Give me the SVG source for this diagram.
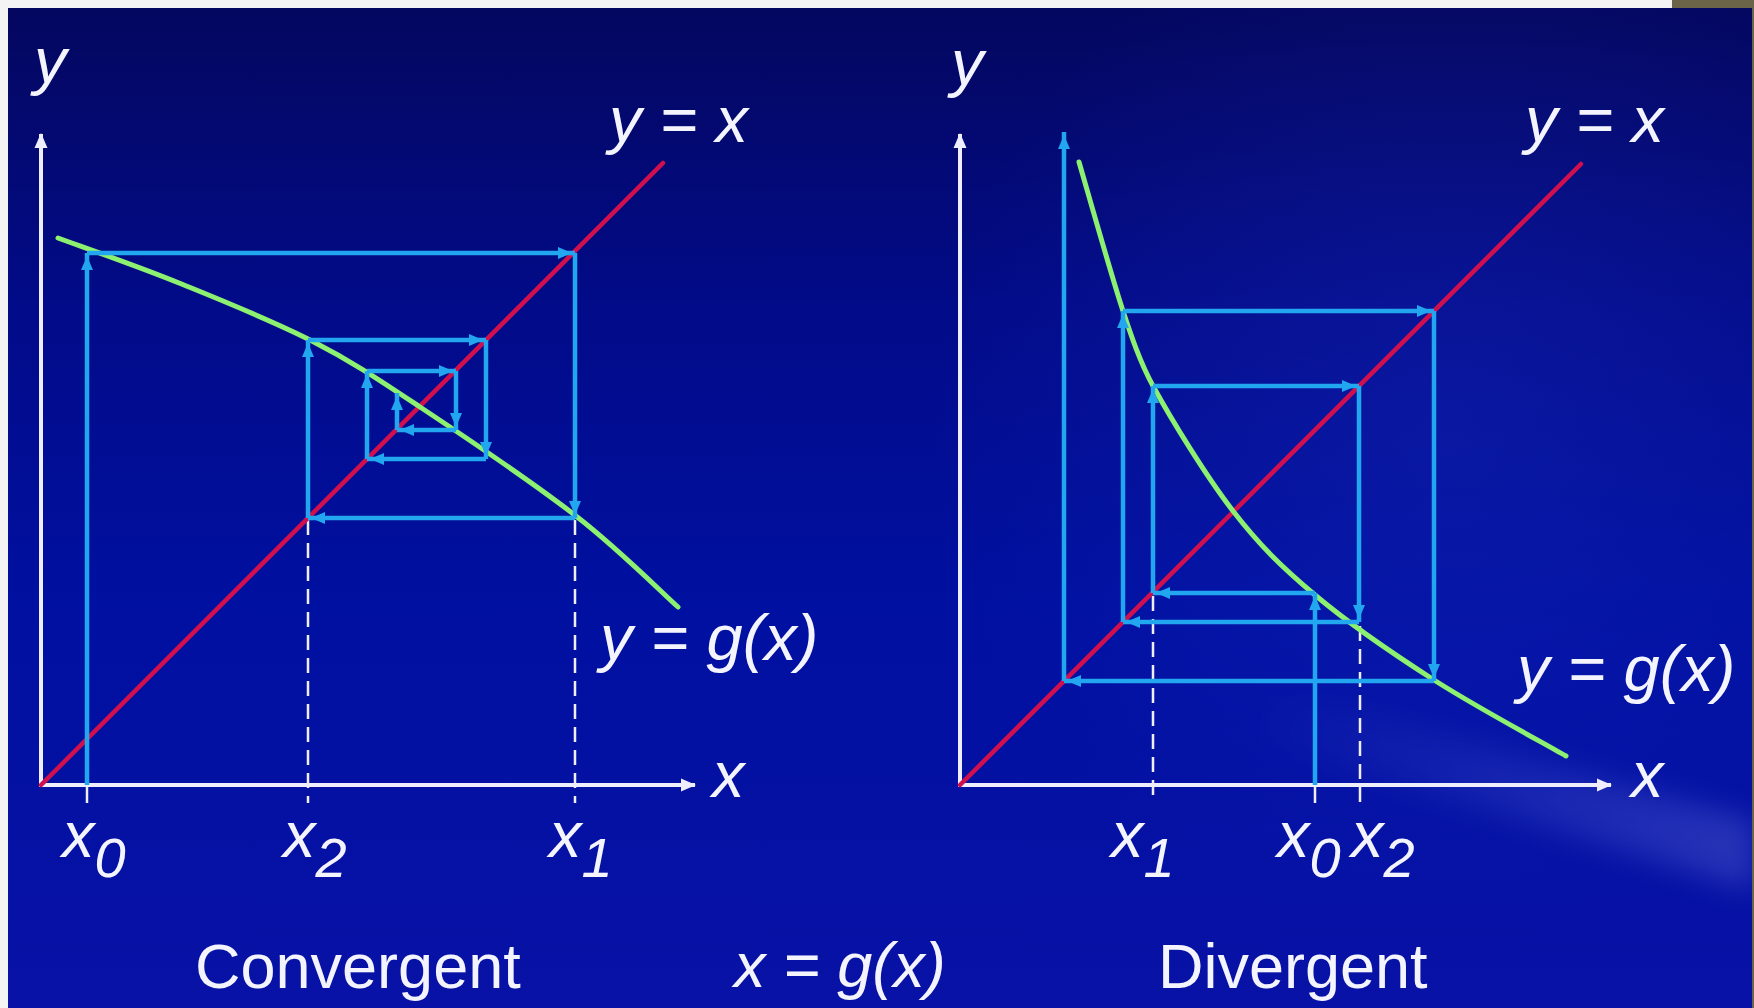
<svg xmlns="http://www.w3.org/2000/svg" width="1754" height="1008" viewBox="0 0 1754 1008">
<defs>
<linearGradient id="bg" x1="0" y1="0" x2="0" y2="1">
<stop offset="0" stop-color="#04075e"/>
<stop offset="0.3" stop-color="#020b88"/>
<stop offset="0.6" stop-color="#0010a0"/>
<stop offset="1" stop-color="#0812a6"/>
</linearGradient>
<radialGradient id="glow" cx="1450" cy="420" r="520" gradientUnits="userSpaceOnUse">
<stop offset="0" stop-color="#2438d0" stop-opacity="0.25"/>
<stop offset="1" stop-color="#2438d0" stop-opacity="0"/>
</radialGradient>
<linearGradient id="beam" x1="1250" y1="700" x2="1754" y2="860" gradientUnits="userSpaceOnUse">
<stop offset="0" stop-color="#8090ff" stop-opacity="0"/>
<stop offset="1" stop-color="#a0b0ff" stop-opacity="0.22"/>
</linearGradient>
<filter id="blur" x="-20%" y="-50%" width="140%" height="200%"><feGaussianBlur stdDeviation="14"/></filter>
<marker id="ca" markerUnits="userSpaceOnUse" markerWidth="16" markerHeight="13" refX="17" refY="6.5" orient="auto">
<path d="M0,0.5 L14,6.5 L0,12.5 z" fill="#22a6f0"/>
</marker>
<marker id="wa" markerUnits="userSpaceOnUse" markerWidth="16" markerHeight="14" refX="14" refY="7" orient="auto">
<path d="M0,0.5 L15,7 L0,13.5 z" fill="#eeeeff"/>
</marker>
</defs>
<style>
.axis{stroke:#eeeeff;stroke-width:4;fill:none}
.tick{stroke:#eeeeff;stroke-width:2.5;fill:none}
.dash{stroke:#eeeeff;stroke-width:2.5;stroke-dasharray:15 8;fill:none}
.diag{stroke:#d0104e;stroke-width:4.5;fill:none;stroke-linecap:round}
.curve{stroke:#8cf070;stroke-width:5;fill:none;stroke-linecap:round}
.web{stroke:#22a6f0;stroke-width:4.5;fill:none;marker-end:url(#ca)}
.m{font-family:"Liberation Sans",Arial,sans-serif;font-style:italic;font-size:65px;fill:#f4f4ff}
.sub{font-size:56px}
.t{font-family:"Liberation Sans",Arial,sans-serif;font-size:63px;fill:#f4f4ff}
</style>
<g id="background">
<rect x="0" y="0" width="1754" height="1008" fill="url(#bg)"/>
<rect x="0" y="0" width="1754" height="1008" fill="url(#glow)"/>
<polygon points="1240,680 1754,820 1754,890 1220,730" fill="url(#beam)" filter="url(#blur)"/>
<rect x="0" y="0" width="1672" height="8" fill="#f4f4f4"/>
<rect x="0" y="0" width="8" height="1008" fill="#f4f4f4"/>
<rect x="1672" y="0" width="82" height="8" fill="#6b6449"/>
<rect x="1752" y="0" width="2" height="1008" fill="#6b6449"/>
</g>
<g id="convergent">
<g id="conv-axes">
<line class="axis" x1="41" y1="787" x2="41" y2="134" marker-end="url(#wa)"/>
<line class="axis" x1="39" y1="785" x2="695" y2="785" marker-end="url(#wa)"/>
<line class="tick" x1="87" y1="785" x2="87" y2="803"/>
<line class="dash" x1="308" y1="520" x2="308" y2="803"/>
<line class="dash" x1="575" y1="520" x2="575" y2="803"/>
</g>
<line id="conv-diag" class="diag" x1="41" y1="785" x2="663" y2="163"/>
<path id="conv-curve" class="curve" d="M58,238 C78.2,245.5 136.7,265.8 179,283 C221.3,300.2 271.8,320.3 312,341 C352.2,361.7 376,377.8 420,407 C464,436.2 533,482.7 576,516 C619,549.3 661,591.8 678,607"/>
<g id="conv-web">
<line class="web" x1="87" y1="785" x2="87" y2="253"/>
<line class="web" x1="87" y1="253" x2="575" y2="253"/>
<line class="web" x1="575" y1="253" x2="575" y2="518"/>
<line class="web" x1="575" y1="518" x2="308" y2="518"/>
<line class="web" x1="308" y1="518" x2="308" y2="340"/>
<line class="web" x1="308" y1="340" x2="486" y2="340"/>
<line class="web" x1="486" y1="340" x2="486" y2="459"/>
<line class="web" x1="486" y1="459" x2="367" y2="459"/>
<line class="web" x1="367" y1="459" x2="367" y2="371"/>
<line class="web" x1="367" y1="371" x2="456" y2="371"/>
<line class="web" x1="456" y1="371" x2="456" y2="430"/>
<line class="web" x1="456" y1="430" x2="397" y2="430"/>
<line class="web" x1="397" y1="430" x2="397" y2="393"/>
</g>
<g id="conv-labels">
<text class="m" x="34" y="83">y</text>
<text class="m" x="609" y="142">y = x</text>
<text class="m" x="600" y="660">y = g(x)</text>
<text class="m" x="712" y="797">x</text>
<text class="m" x="62" y="857">x<tspan class="sub" dy="20">0</tspan></text>
<text class="m" x="283" y="857">x<tspan class="sub" dy="20">2</tspan></text>
<text class="m" x="549" y="857">x<tspan class="sub" dy="20">1</tspan></text>
<text class="t" x="195" y="988">Convergent</text>
</g>
</g>
<g id="equation">
<text class="m" x="734" y="987" style="font-size:63px">x = g(x)</text>
</g>
<g id="divergent">
<g id="div-axes">
<line class="axis" x1="960" y1="787" x2="960" y2="134" marker-end="url(#wa)"/>
<line class="axis" x1="958" y1="785" x2="1611" y2="785" marker-end="url(#wa)"/>
<line class="tick" x1="1315" y1="785" x2="1315" y2="803"/>
<line class="dash" x1="1153" y1="596" x2="1153" y2="803"/>
<line class="dash" x1="1360" y1="626" x2="1360" y2="803"/>
</g>
<line id="div-diag" class="diag" x1="960" y1="785" x2="1581" y2="164"/>
<path id="div-curve" class="curve" d="M1079,162 C1086.3,186.8 1110.7,273.7 1123,311 C1131.5,336.7 1140,362.2 1153,386 C1171.3,419.3 1206,476.2 1233,511 C1260,545.8 1281.5,566.8 1315,595 C1348.5,623.2 1392.2,653.2 1434,680 C1475.8,706.8 1544,743.3 1566,756"/>
<g id="div-web">
<line class="web" x1="1315" y1="785" x2="1315" y2="593"/>
<line class="web" x1="1315" y1="593" x2="1153" y2="593"/>
<line class="web" x1="1153" y1="593" x2="1153" y2="386"/>
<line class="web" x1="1153" y1="386" x2="1359" y2="386"/>
<line class="web" x1="1359" y1="386" x2="1359" y2="622"/>
<line class="web" x1="1359" y1="622" x2="1123" y2="622"/>
<line class="web" x1="1123" y1="622" x2="1123" y2="311"/>
<line class="web" x1="1123" y1="311" x2="1434" y2="311"/>
<line class="web" x1="1434" y1="311" x2="1434" y2="681"/>
<line class="web" x1="1434" y1="681" x2="1064" y2="681"/>
<line class="web" x1="1064" y1="681" x2="1064" y2="132"/>
</g>
<g id="div-labels">
<text class="m" x="951" y="85">y</text>
<text class="m" x="1525" y="142">y = x</text>
<text class="m" x="1517" y="691">y = g(x)</text>
<text class="m" x="1631" y="797">x</text>
<text class="m" x="1111" y="857">x<tspan class="sub" dy="20">1</tspan></text>
<text class="m" x="1277" y="857">x<tspan class="sub" dy="20">0</tspan></text>
<text class="m" x="1351" y="857">x<tspan class="sub" dy="20">2</tspan></text>
<text class="t" x="1158" y="988">Divergent</text>
</g>
</g>
</svg>
